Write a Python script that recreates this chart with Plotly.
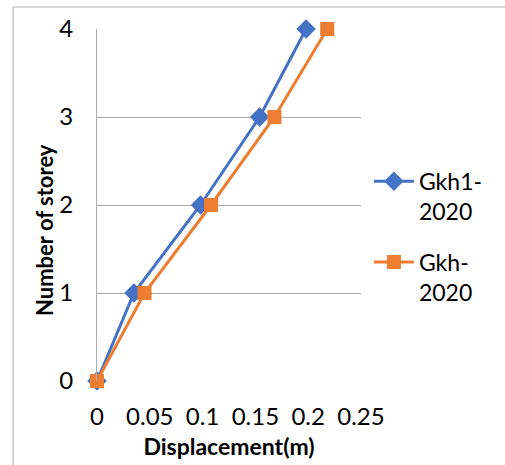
import plotly.graph_objects as go

storeys = [0, 1, 2, 3, 4]
gkh1_2020 = [0, 0.035, 0.098, 0.154, 0.198]
gkh_2020 = [0, 0.045, 0.108, 0.168, 0.218]
series_names = ["Gkh1-<br>2020", "Gkh-<br>2020"]
x_ticks = [0, 0.05, 0.1, 0.15, 0.2, 0.25]
x_tick_labels = ["0", "0.05", "0.1", "0.15", "0.2", "0.25"]
y_ticks = [0, 1, 2, 3, 4]

FONT = "Lato, Carlito, 'Liberation Sans', sans-serif"

fig = go.Figure()
fig.add_trace(go.Scatter(
    x=gkh1_2020, y=storeys, mode="lines+markers", name=series_names[0],
    line=dict(color="#4472C4", width=3),
    marker=dict(symbol="diamond", size=15, color="#4472C4"),
    cliponaxis=False, legendgroup="a"))
fig.add_trace(go.Scatter(
    x=gkh_2020, y=storeys, mode="lines+markers", name=series_names[1],
    line=dict(color="#ED7D31", width=3),
    marker=dict(symbol="square", size=14, color="#ED7D31"),
    cliponaxis=False, legendgroup="b"))

fig.update_layout(
    width=505, height=465,
    margin=dict(l=97, r=144, t=29, b=84),
    paper_bgcolor="white", plot_bgcolor="white",
    font=dict(family=FONT, size=24, color="#000000"),
    showlegend=True,
    legend=dict(x=1.03, y=0.41, xanchor="left", yanchor="middle",
                valign="top", traceorder="grouped", tracegroupgap=18,
                font=dict(family=FONT, size=23, color="#000000"),
                itemwidth=40,
                bgcolor="rgba(0,0,0,0)"),
    shapes=[dict(type="rect", xref="paper", yref="paper",
                 x0=-0.318, x1=2.0, y0=-1.0, y1=1.0625,
                 line=dict(color="#ADADAD", width=1), layer="below")],
    annotations=[dict(text="<b>Number of storey</b>", textangle=-90,
                      xref="paper", yref="paper", x=-0.197, y=0.429,
                      xanchor="center", yanchor="middle", showarrow=False,
                      font=dict(family=FONT, size=22, color="#000000"))],
)
fig.update_xaxes(
    range=[0, 0.25], tickvals=x_ticks, ticktext=x_tick_labels,
    showgrid=False, zeroline=False, showline=False,
    ticks="outside", ticklen=14, tickcolor="rgba(0,0,0,0)",
    tickfont=dict(family=FONT, size=24),
    title=dict(text="<b>Displacement(m)</b>", standoff=10,
               font=dict(family=FONT, size=23)),
    automargin=False)
fig.update_yaxes(
    range=[0, 4], tickvals=y_ticks,
    showgrid=True, gridcolor="#ABABAB", gridwidth=1,
    zeroline=False, showline=True, linecolor="#ABABAB", linewidth=1,
    ticks="outside", ticklen=18, tickcolor="rgba(0,0,0,0)",
    tickfont=dict(family=FONT, size=24),
    automargin=False)

fig.write_html("out.html")
